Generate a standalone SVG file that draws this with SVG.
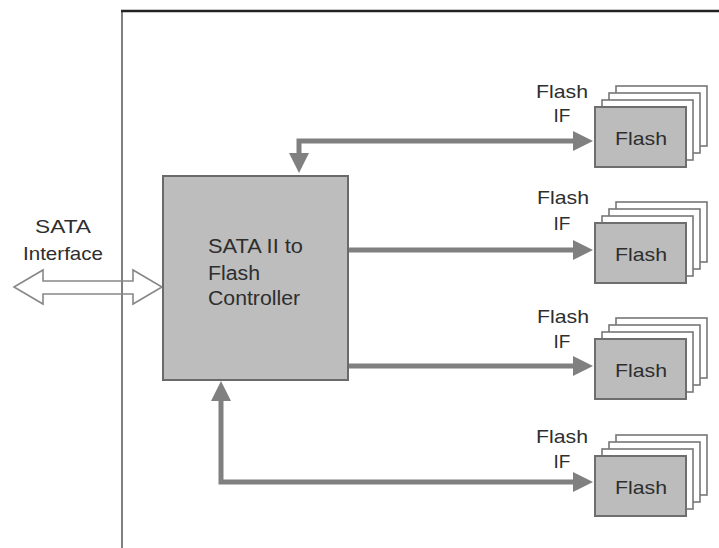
<svg xmlns="http://www.w3.org/2000/svg" width="719" height="548" viewBox="0 0 719 548">
<style>
text{font-family:"Liberation Sans",Arial,sans-serif;fill:#2e2e2e}
.lbl{font-size:19px;text-anchor:middle}
.ctl{font-size:20px}
.conn{fill:none;stroke:#808080;stroke-width:5;stroke-linejoin:miter}
.back{fill:#fff;stroke:#777;stroke-width:1.6}
.front{fill:#bcbcbc;stroke:#6e6e6e;stroke-width:2}
.ftxt{font-size:19px;text-anchor:middle}
</style>
<defs>
<marker id="ah" viewBox="0 0 20 20" markerWidth="20" markerHeight="20" refX="2" refY="10" orient="auto-start-reverse" markerUnits="userSpaceOnUse">
<path d="M0,0 L20,10 L0,20 z" fill="#808080"/>
</marker>
<g id="stack">
<rect class="back" x="616" y="86" width="91" height="60"/>
<rect class="back" x="609" y="93" width="91" height="60"/>
<rect class="back" x="602" y="100" width="91" height="60"/>
<rect class="front" x="595" y="107" width="91" height="60"/>
<text class="ftxt" x="641" y="145" textLength="52" lengthAdjust="spacingAndGlyphs">Flash</text>
</g>
</defs>
<g id="frame">
<line x1="122" y1="11" x2="122" y2="548" stroke="#555" stroke-width="1.5"/>
<line x1="121" y1="11" x2="719" y2="11" stroke="#222" stroke-width="2.5"/>
</g>
<g id="sata-interface">
<polygon points="14,287 43,270 43,281 133,281 133,270 162,287 133,304 133,294 43,294 43,304" fill="none" stroke="#888" stroke-width="1.6"/>
<text class="lbl" x="63" y="233" font-size="18" textLength="56" lengthAdjust="spacingAndGlyphs">SATA</text>
<text class="lbl" x="63" y="260" font-size="18" textLength="80" lengthAdjust="spacingAndGlyphs">Interface</text>
</g>
<g id="connectors">
<path class="conn" d="M575,141 L299,141 L299,155" marker-start="url(#ah)" marker-end="url(#ah)"/>
<path class="conn" d="M348,250 L575,250" marker-end="url(#ah)"/>
<path class="conn" d="M348,366 L575,366" marker-end="url(#ah)"/>
<path class="conn" d="M575,482 L221,482 L221,399" marker-start="url(#ah)" marker-end="url(#ah)"/>
</g>
<g id="controller">
<rect x="163" y="176" width="185" height="204" fill="#bdbdbd" stroke="#6a6a6a" stroke-width="2"/>
<text class="ctl" x="208" y="253" textLength="95" lengthAdjust="spacingAndGlyphs">SATA II to</text>
<text class="ctl" x="208" y="280" textLength="52" lengthAdjust="spacingAndGlyphs">Flash</text>
<text class="ctl" x="208" y="305" textLength="92" lengthAdjust="spacingAndGlyphs">Controller</text>
</g>
<g id="flash1">
<use href="#stack"/>
<text class="lbl" x="562" y="98" textLength="52" lengthAdjust="spacingAndGlyphs">Flash</text>
<text class="lbl" x="562" y="122">IF</text>
</g>
<g id="flash2">
<use href="#stack" transform="translate(0,116)"/>
<text class="lbl" x="563" y="204" textLength="52" lengthAdjust="spacingAndGlyphs">Flash</text>
<text class="lbl" x="562" y="230">IF</text>
</g>
<g id="flash3">
<use href="#stack" transform="translate(0,232)"/>
<text class="lbl" x="563" y="323" textLength="52" lengthAdjust="spacingAndGlyphs">Flash</text>
<text class="lbl" x="562" y="348">IF</text>
</g>
<g id="flash4">
<use href="#stack" transform="translate(0,349)"/>
<text class="lbl" x="562" y="443" textLength="52" lengthAdjust="spacingAndGlyphs">Flash</text>
<text class="lbl" x="562" y="468">IF</text>
</g>
</svg>
